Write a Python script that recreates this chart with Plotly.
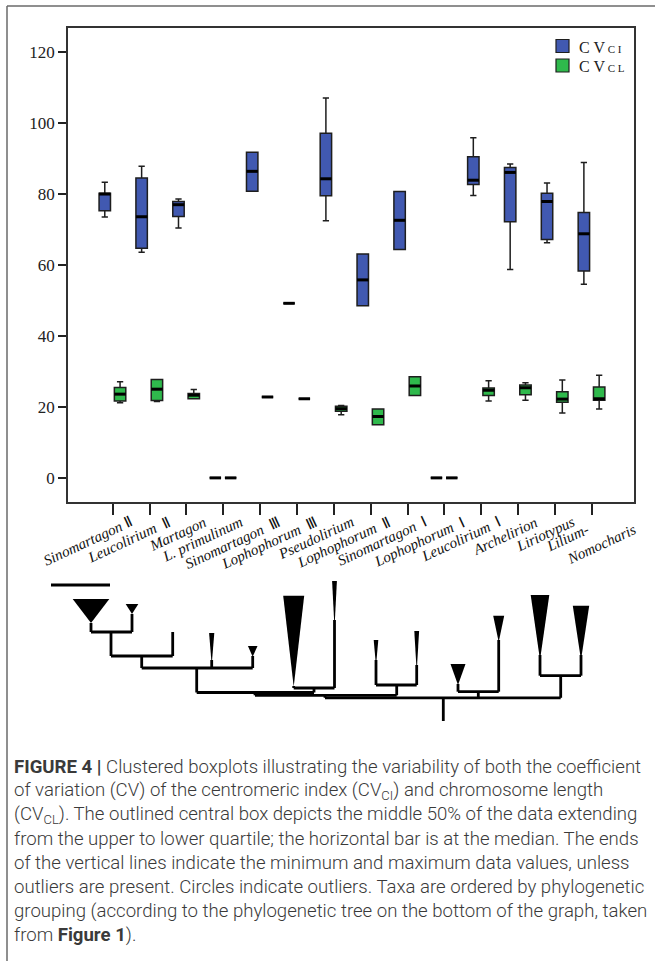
import plotly.graph_objects as go

W, H = 655, 961

# ---------------- data ----------------
taxa = ["Sinomartagon Ⅱ", "Leucolirium Ⅱ", "Martagon", "L. primulinum", "Sinomartagon Ⅲ",
        "Lophophorum Ⅲ", "Pseudolirium", "Lophophorum Ⅱ", "Sinomartagon Ⅰ", "Lophophorum Ⅰ",
        "Leucolirium Ⅰ", "Archelirion", "Liriotypus", "Lilium-Nomocharis"]
tick_labels = ["<i>Sinomartagon</i> Ⅱ", "<i>Leucolirium</i>  Ⅱ", "<i>Martagon</i>", "<i>L. primulinum</i>",
               "<i>Sinomartagon</i>  Ⅲ", "<i>Lophophorum</i>  Ⅲ", "<i>Pseudolirium</i>", "<i>Lophophorum</i>  Ⅱ",
               "<i>Sinomartagon</i>  Ⅰ", "<i>Lophophorum</i>  Ⅰ", "<i>Leucolirium</i>  Ⅰ", "<i>Archelirion</i>",
               "<i>Liriotypus</i>", "<i>Lilium-</i><br><i>Nomocharis</i>"]

# CV of centromeric index (CV_CI)
ci_min = [73.5, 63.6, 70.4, 0, 80.8, 49.2, 72.5, 48.5, 64.4, 0, 79.6, 58.7, 66.3, 54.6]
ci_q1 = [75.3, 64.7, 73.7, 0, 80.8, 49.2, 79.5, 48.5, 64.4, 0, 82.7, 72.2, 67.2, 58.3]
ci_med = [80.0, 73.6, 77.0, 0, 86.4, 49.2, 84.3, 55.8, 72.6, 0, 83.9, 86.1, 77.9, 68.8]
ci_q3 = [80.2, 84.5, 77.9, 0, 91.8, 49.2, 97.1, 63.1, 80.7, 0, 90.5, 87.5, 80.2, 74.8]
ci_max = [83.3, 87.8, 78.6, 0, 91.8, 49.2, 107.1, 63.1, 80.7, 0, 95.9, 88.5, 83.1, 88.9]

# CV of chromosome length (CV_CL)
cl_min = [21.2, 21.5, 22.3, 0, 22.8, 22.3, 17.8, 15.0, 23.2, 0, 21.7, 21.9, 18.3, 19.4]
cl_q1 = [21.7, 21.8, 22.3, 0, 22.8, 22.3, 18.8, 15.0, 23.2, 0, 23.2, 23.4, 21.3, 21.9]
cl_med = [23.6, 25.0, 23.3, 0, 22.8, 22.3, 19.5, 17.3, 25.9, 0, 24.7, 25.4, 22.2, 22.3]
cl_q3 = [25.5, 27.7, 23.8, 0, 22.8, 22.3, 20.2, 19.4, 28.5, 0, 25.3, 26.2, 24.3, 25.6]
cl_max = [27.1, 27.7, 24.9, 0, 22.8, 22.3, 20.4, 19.4, 28.5, 0, 27.4, 26.8, 27.6, 28.9]

y_ticks = [0, 20, 40, 60, 80, 100, 120]

series_names = ['C V<span style="font-size:11px"> C I</span>', 'C V<span style="font-size:11px"> C L</span>']

caption_lines = [
    "<b>FIGURE 4 |</b> Clustered boxplots illustrating the variability of both the coefficient",
    "of variation (CV) of the centromeric index (CV<sub>CI</sub>) and chromosome length",
    "(CV<sub>CL</sub>). The outlined central box depicts the middle 50% of the data extending",
    "from the upper to lower quartile; the horizontal bar is at the median. The ends",
    "of the vertical lines indicate the minimum and maximum data values, unless",
    "outliers are present. Circles indicate outliers. Taxa are ordered by phylogenetic",
    "grouping (according to the phylogenetic tree on the bottom of the graph, taken",
    "from <b>Figure 1</b>).",
]

# phylogenetic tree drawing (pixel space of the figure)
tree_wedges = [  # x centre, y top, half width, y apex
    (91, 599, 18.3, 623), (132, 604, 6.3, 614), (211.7, 633, 2.6, 665), (252.7, 646, 4.8, 656.7),
    (293.7, 595.7, 10.5, 686.7), (334.5, 581, 2.4, 628), (376, 640, 2.3, 666), (416.7, 631, 2.4, 672),
    (458, 664, 7.5, 685), (498.7, 615.7, 5.5, 642), (540, 595, 9.3, 660), (581, 605.7, 8.2, 660),
]
tree_lines = [
    (91, 623, 91, 632), (132, 614, 132, 632), (91, 632, 132, 632),
    (111, 632, 111, 656), (172.7, 632, 172.7, 656), (111, 656, 172.7, 656),
    (141.7, 656, 141.7, 668), (211.7, 660, 211.7, 668), (252.7, 656, 252.7, 668), (141.7, 668, 252.7, 668),
    (196.7, 668, 196.7, 692.5),
    (293.7, 686, 293.7, 688), (334.5, 620, 334.5, 688), (293.7, 688, 334.5, 688), (314, 688, 314, 692.5),
    (196.7, 692.5, 314, 692.5), (255, 692.5, 255, 695.3),
    (376, 660, 376, 685), (416.7, 665, 416.7, 685), (376, 685, 416.7, 685), (396.7, 685, 396.7, 695.3),
    (255, 695.3, 396.7, 695.3), (325, 695.3, 325, 697.8),
    (458, 684, 458, 691.7), (498.7, 640, 498.7, 691.7), (458, 691.7, 498.7, 691.7), (478.3, 691.7, 478.3, 697.8),
    (540, 655, 540, 675.7), (581, 655, 581, 675.7), (540, 675.7, 581, 675.7), (560.7, 675.7, 560.7, 697.8),
    (325, 697.8, 560.7, 697.8),
    (443.3, 697.8, 443.3, 721),
]
scale_bar = (51, 585, 110, 585)

# ---------------- styling ----------------
BLUE = "#4159B1"
GREEN = "#2FB94C"
OUTLINE = "#1e1e1e"
SERIF = "Liberation Serif"
BOX_W = 0.31
OFF_CI, OFF_CL = -0.215, 0.2
ANGLE = 25

n = len(taxa)
pos = list(range(n))


def px(x):
    return x / W


def py(y):
    return 1 - y / H


fig = go.Figure()

series = [
    (series_names[0], OFF_CI, BLUE, ci_min, ci_q1, ci_med, ci_q3, ci_max),
    (series_names[1], OFF_CL, GREEN, cl_min, cl_q1, cl_med, cl_q3, cl_max),
]
for name, off, col, lo, q1, md, q3, hi in series:
    xs = [p + off for p in pos]
    fig.add_trace(go.Box(
        x=xs, q1=q1, median=md, q3=q3, lowerfence=lo, upperfence=hi,
        width=BOX_W, whiskerwidth=0.55, fillcolor=col,
        line=dict(color=OUTLINE, width=1.5), boxpoints=False,
        name=name, showlegend=False, hoverinfo="skip",
    ))
    mx, my = [], []
    for x, m in zip(xs, md):
        mx += [x - BOX_W / 2, x + BOX_W / 2, None]
        my += [m, m, None]
    fig.add_trace(go.Scatter(x=mx, y=my, mode="lines", line=dict(color="black", width=3),
                             showlegend=False, hoverinfo="skip"))

annotations = []
shapes = []

# legend (drawn manually to match spacing)
for k, (name, off, col, *_rest) in enumerate(series):
    yc = 46 + 19.5 * k
    shapes.append(dict(type="rect", xref="paper", yref="paper",
                       x0=px(556), x1=px(569), y0=py(yc - 6.5), y1=py(yc + 6.5),
                       fillcolor=col, line=dict(color=OUTLINE, width=1.2)))
    annotations.append(dict(x=px(577), xref="paper", y=py(yc + 1), yref="paper", text=name,
                            showarrow=False, xanchor="left", yanchor="middle",
                            font=dict(family=SERIF, size=16, color="#222")))

# x tick labels as rotated annotations (anchored at their upper-right end)
label_font = dict(family=SERIF, size=15, color="#111")
for i, lab in enumerate(tick_labels):
    parts = lab.split("<br>")
    if len(parts) == 1:
        anchors = [(25, 511)]
    else:
        anchors = [(2, 519), (50, 518)]
    for part, (xs_, ytop) in zip(parts, anchors):
        annotations.append(dict(
            x=pos[i], xref="x", y=py(ytop), yref="paper", text=part, showarrow=False,
            xanchor="right", yanchor="top", textangle=-ANGLE, xshift=xs_,
            font=label_font,
        ))

for k, line in enumerate(caption_lines):
    annotations.append(dict(
        x=px(12), xref="paper", y=py(767 + 24 * k), yref="paper", text=line, showarrow=False,
        xanchor="left", yanchor="middle", align="left",
        font=dict(family="Roboto", size=18.6, color="#3a3a3a", weight=300),
    ))

# outer frame
shapes.append(dict(type="line", xref="paper", yref="paper", x0=px(7), y0=py(6), x1=px(655), y1=py(6),
                   line=dict(color="#6a6a6a", width=1.5)))
shapes.append(dict(type="line", xref="paper", yref="paper", x0=px(7), y0=py(6), x1=px(7), y1=py(961),
                   line=dict(color="#6a6a6a", width=1.5)))
# tree
for (xc, yt, hw, ya) in tree_wedges:
    path = f"M{px(xc - hw)},{py(yt)} L{px(xc + hw)},{py(yt)} L{px(xc)},{py(ya)} Z"
    shapes.append(dict(type="path", xref="paper", yref="paper", path=path,
                       fillcolor="black", line=dict(width=0)))
for (x0, y0, x1, y1) in tree_lines:
    shapes.append(dict(type="line", xref="paper", yref="paper", x0=px(x0), y0=py(y0), x1=px(x1), y1=py(y1),
                       line=dict(color="black", width=2.8)))
x0, y0, x1, y1 = scale_bar
shapes.append(dict(type="line", xref="paper", yref="paper", x0=px(x0), y0=py(y0), x1=px(x1), y1=py(y1),
                   line=dict(color="black", width=3)))

fig.update_layout(
    width=W, height=H, margin=dict(l=0, r=0, t=0, b=0),
    paper_bgcolor="white", plot_bgcolor="white",
    boxmode="overlay", showlegend=False,
    xaxis=dict(domain=[px(68), px(634)], range=[-1.213, 14.145], tickvals=pos, showticklabels=False,
               ticks="outside", ticklen=11, tickwidth=1.5, tickcolor="#222",
               showgrid=False, zeroline=False, showline=True, linecolor="#333", linewidth=1.5, mirror=True),
    yaxis=dict(domain=[py(502), py(28)], range=[-6.8, 126.8], tickvals=y_ticks,
               ticks="outside", ticklen=8, tickwidth=1.5, tickcolor="#222",
               tickfont=dict(family=SERIF, size=17, color="#222"),
               showgrid=False, zeroline=False, showline=True, linecolor="#333", linewidth=1.5, mirror=True),
    annotations=annotations,
    shapes=shapes,
)

fig.write_html("out.html", config={"displayModeBar": False},
               post_script="document.body.style.margin='0';document.body.style.overflow='hidden';")
